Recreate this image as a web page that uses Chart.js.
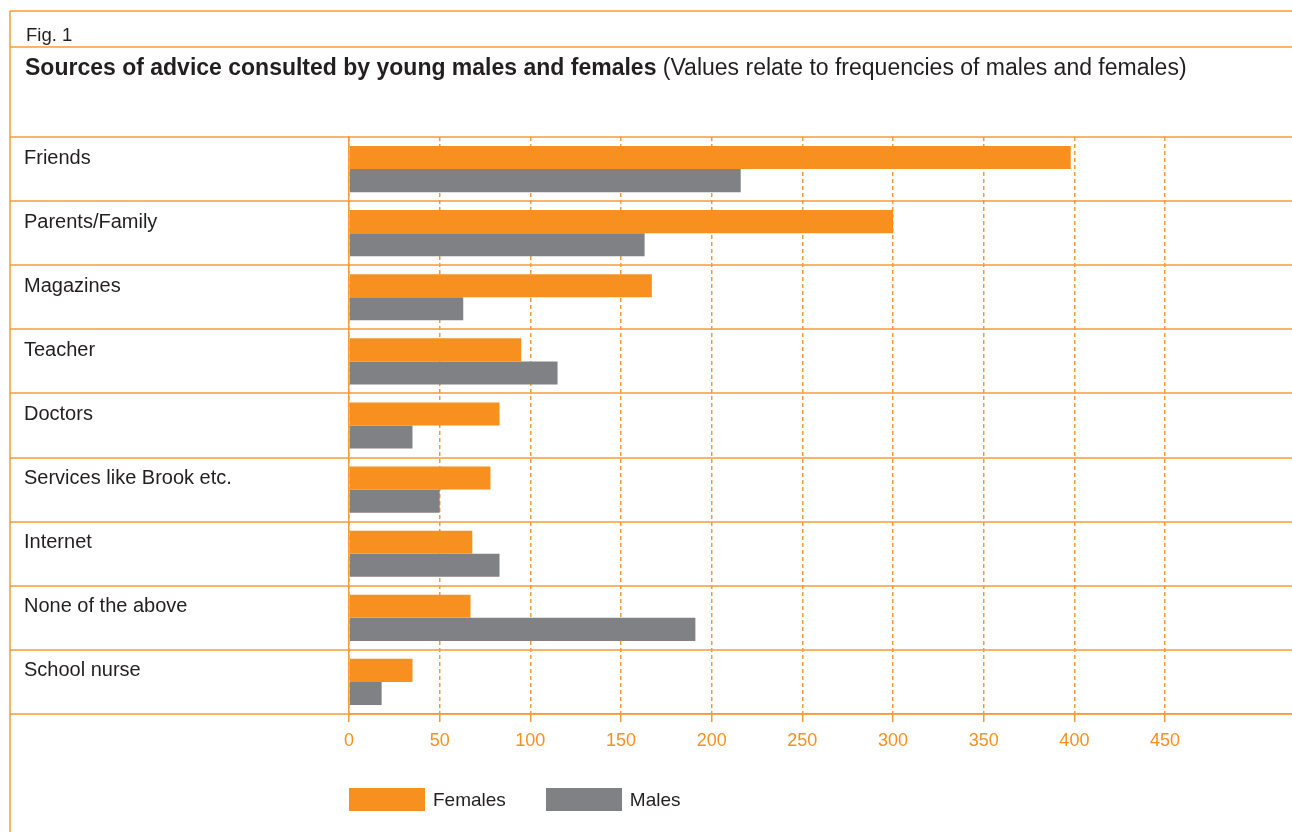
<!DOCTYPE html>
<html lang="en">
<head>
    <meta charset="UTF-8">
    <title>Sources of advice consulted by young males and females</title>
    <script src="https://cdn.jsdelivr.net/npm/chart.js"></script>
    <style>
        body {
            margin: 0;
            width: 1292px;
            height: 832px;
            overflow: hidden;
            background: #fff;
            font-family: "Liberation Sans", Arial, sans-serif;
            color: #231f20;
            position: relative;
        }
        #chart {
            position: absolute;
            left: 0;
            top: 0;
        }
        .fig {
            position: absolute;
            left: 26px;
            top: 24px;
            font-size: 18.5px;
        }
        .title {
            position: absolute;
            left: 25px;
            top: 54px;
            font-size: 23px;
            white-space: nowrap;
        }
        .title b { font-weight: bold; }
        .legend {
            position: absolute;
            left: 349px;
            top: 788px;
            display: flex;
            align-items: center;
            font-size: 19px;
        }
        .legend span.box {
            display: inline-block;
            width: 76px;
            height: 23px;
            margin-right: 8px;
        }
        .legend .item {
            display: flex;
            align-items: center;
            margin-right: 40px;
        }
    </style>
</head>
<body>
    <canvas id="chart" width="1292" height="832"></canvas>
    <div class="fig">Fig. 1</div>
    <div class="title"><b>Sources of advice consulted by young males and females</b> (Values relate to frequencies of males and females)</div>
    <div class="legend">
        <div class="item"><span class="box" style="background:#F7901E"></span>Females</div>
        <div class="item"><span class="box" style="background:#808184"></span>Males</div>
    </div>
    <script>
        const categories = ["Friends", "Parents/Family", "Magazines", "Teacher", "Doctors",
            "Services like Brook etc.", "Internet", "None of the above", "School nurse"];
        const females = [398, 300, 167, 95, 83, 78, 68, 67, 35];
        const males = [216, 163, 63, 115, 35, 50, 83, 191, 18];
        const tickStep = 50;
        const lastTick = 450;
        const axisMax = 520;

        const orange = "#F7901E";
        const lineOrange = "#F79A3A";
        const grey = "#808184";

        // frame lines and row separators, extended across the whole page
        const framePlugin = {
            id: "frame",
            afterDraw(chart) {
                const ctx = chart.ctx;
                const area = chart.chartArea;
                const w = chart.width;
                const rowH = (area.bottom - area.top) / categories.length;
                ctx.save();
                ctx.strokeStyle = lineOrange;
                ctx.lineWidth = 1.5;
                ctx.beginPath();
                ctx.moveTo(10, 11); ctx.lineTo(w, 11);
                ctx.moveTo(10, 47); ctx.lineTo(w, 47);
                for (let i = 0; i <= categories.length; i++) {
                    const y = Math.round(area.top + i * rowH);
                    ctx.moveTo(10, y); ctx.lineTo(w, y);
                }
                ctx.moveTo(10, 11); ctx.lineTo(10, chart.height);
                ctx.stroke();
                ctx.restore();
            }
        };

        new Chart(document.getElementById("chart"), {
            type: "bar",
            data: {
                labels: categories,
                datasets: [
                    { label: "Females", data: females, backgroundColor: orange },
                    { label: "Males", data: males, backgroundColor: grey }
                ]
            },
            options: {
                indexAxis: "y",
                responsive: false,
                animation: false,
                categoryPercentage: 0.72,
                barPercentage: 1,
                layout: { padding: { left: 24, top: 137, right: 0, bottom: 0 } },
                plugins: {
                    legend: { display: false },
                    tooltip: { enabled: false }
                },
                scales: {
                    x: {
                        min: 0,
                        max: axisMax,
                        afterBuildTicks(scale) {
                            scale.ticks = scale.ticks.filter(t => t.value <= lastTick);
                        },
                        afterFit(scale) { scale.height = 118; },
                        ticks: {
                            stepSize: tickStep,
                            color: orange,
                            font: { size: 18, family: "'Liberation Sans', Arial, sans-serif" },
                            padding: 8
                        },
                        grid: {
                            color: lineOrange,
                            lineWidth: 1.5,
                            tickLength: 8,
                            tickColor: lineOrange,
                            tickBorderDash: []
                        },
                        border: { display: true, color: lineOrange, width: 1.5, dash: [4, 3] }
                    },
                    y: {
                        afterFit(scale) { scale.width = 325; },
                        grid: { display: false },
                        border: { display: true, color: lineOrange, width: 1.5 },
                        ticks: {
                            crossAlign: "far",
                            labelOffset: -11,
                            color: "#231f20",
                            font: { size: 20, family: "'Liberation Sans', Arial, sans-serif" }
                        }
                    }
                }
            },
            plugins: [framePlugin]
        });
    </script>
</body>
</html>
